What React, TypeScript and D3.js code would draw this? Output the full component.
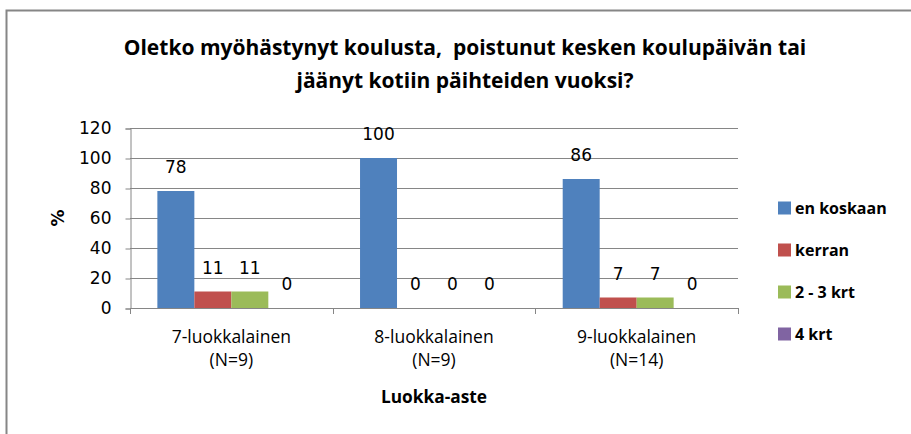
import React, { useRef, useEffect } from "react";
import * as d3 from "d3";

const categories = ["7-luokkalainen", "8-luokkalainen", "9-luokkalainen"];
const groupSizes = ["(N=9)", "(N=9)", "(N=14)"];
const seriesNames = ["en koskaan", "kerran", "2 - 3 krt", "4 krt"];
const seriesColors = ["#4f81bd", "#c0504d", "#9bbb59", "#8064a2"];
// values per series, one per category
const enKoskaan = [78, 100, 86];
const kerran = [11, 0, 7];
const kaksKolme = [11, 0, 7];
const neljä = [0, 0, 0];
const yTicks = [0, 20, 40, 60, 80, 100, 120];

const W = 911;
const H = 434;
const textFont = "'Open Sans', sans-serif";
const numFont = "'DejaVu Sans', sans-serif";

const App = () => {
  const svgRef = useRef<SVGSVGElement>(null);

  useEffect(() => {
    const svg = d3.select(svgRef.current);
    svg.selectAll("*").remove();

    const series = [enKoskaan, kerran, kaksKolme, neljä];
    const left = 130, right = 738, top = 128, bottom = 308;

    // outer frame
    svg.append("rect")
      .attr("x", 6.5).attr("y", 10.5)
      .attr("width", 930).attr("height", 440)
      .attr("fill", "#fff").attr("stroke", "#868686").attr("stroke-width", 2);

    // title
    const title = svg.append("text")
      .attr("text-anchor", "middle")
      .attr("font-family", textFont)
      .attr("font-weight", "bold")
      .attr("font-size", 21)
      .attr("fill", "#000")
      .style("white-space", "pre");
    title.append("tspan").attr("x", 465).attr("y", 55)
      .text("Oletko myöhästynyt koulusta,  poistunut kesken koulupäivän tai");
    title.append("tspan").attr("x", 465).attr("y", 88)
      .text("jäänyt kotiin päihteiden vuoksi?");

    const x = d3.scaleBand().domain(categories).range([left, right]);
    const inner = d3.scaleBand<number>().domain(d3.range(series.length))
      .range([0, x.bandwidth()]).paddingInner(0).paddingOuter(0.74);
    const y = d3.scaleLinear().domain([0, 120]).range([bottom, top]);

    // gridlines
    svg.append("g").selectAll("line").data(yTicks.slice(1)).join("line")
      .attr("x1", left).attr("x2", right)
      .attr("y1", (d) => Math.round(y(d)) + 0.5).attr("y2", (d) => Math.round(y(d)) + 0.5)
      .attr("stroke", "#868686");

    // y axis
    const yAxis = svg.append("g")
      .attr("transform", `translate(${left + 0.5},0.5)`)
      .call(d3.axisLeft(y).tickValues(yTicks).tickSize(5).tickPadding(14));
    yAxis.select(".domain").attr("stroke", "#868686");
    yAxis.selectAll(".tick line").attr("stroke", "#868686");
    yAxis.selectAll(".tick text")
      .attr("font-family", numFont)
      .attr("font-size", 17).attr("fill", "#000");

    // bars
    series.forEach((vals, si) => {
      svg.append("g").selectAll("rect").data(vals).join("rect")
        .attr("x", (_d, i) => (x(categories[i]) as number) + (inner(si) as number))
        .attr("width", inner.bandwidth())
        .attr("y", (d) => y(d))
        .attr("height", (d) => bottom - y(d))
        .attr("fill", seriesColors[si]);
      svg.append("g").selectAll("text").data(vals).join("text")
        .attr("x", (_d, i) => (x(categories[i]) as number) + (inner(si) as number) + inner.bandwidth() / 2)
        .attr("y", (d) => y(d) - 18)
        .attr("text-anchor", "middle")
        .attr("font-family", numFont)
        .attr("font-size", 17)
        .text((d) => d);
    });

    // x axis line and ticks
    svg.append("line")
      .attr("x1", left).attr("x2", right)
      .attr("y1", bottom + 0.5).attr("y2", bottom + 0.5)
      .attr("stroke", "#868686");
    const boundaries = [left, ...categories.map((c) => (x(c) as number) + x.bandwidth())];
    svg.append("g").selectAll("line").data(boundaries).join("line")
      .attr("x1", (d) => Math.round(d) + 0.5).attr("x2", (d) => Math.round(d) + 0.5)
      .attr("y1", bottom).attr("y2", bottom + 6)
      .attr("stroke", "#868686");

    // category labels
    const cat = svg.append("g").selectAll("text").data(categories).join("text")
      .attr("text-anchor", "middle")
      .attr("font-family", textFont)
      .attr("font-size", 17.5)
      .attr("fill", "#000");
    cat.append("tspan")
      .attr("x", (d) => (x(d) as number) + x.bandwidth() / 2).attr("y", 343)
      .text((d) => d);
    cat.append("tspan")
      .attr("x", (d) => (x(d) as number) + x.bandwidth() / 2).attr("y", 366)
      .text((_d, i) => groupSizes[i]);

    // axis titles
    svg.append("text")
      .attr("x", (left + right) / 2).attr("y", 403)
      .attr("text-anchor", "middle")
      .attr("font-family", textFont).attr("font-weight", "bold")
      .attr("font-size", 17.3).text("Luokka-aste");
    svg.append("text")
      .attr("transform", `translate(64,${(top + bottom) / 2}) rotate(-90)`)
      .attr("text-anchor", "middle")
      .attr("font-family", numFont).attr("font-weight", "bold")
      .attr("font-size", 17).text("%");

    // legend
    const leg = svg.append("g").selectAll("g").data(seriesNames).join("g")
      .attr("transform", (_d, i) => `translate(778,${208 + i * 42})`);
    leg.append("rect")
      .attr("x", 0).attr("y", -6.5).attr("width", 13).attr("height", 13)
      .attr("fill", (_d, i) => seriesColors[i]);
    leg.append("text")
      .attr("x", 17).attr("y", 6)
      .attr("font-family", textFont).attr("font-weight", "bold")
      .attr("font-size", 16).text((d) => d);
  }, []);

  return (
    <svg
      ref={svgRef}
      width={W}
      height={H}
      style={{ position: "absolute", left: 0, top: 0, display: "block", background: "#fff" }}
    />
  );
};

export default App;
